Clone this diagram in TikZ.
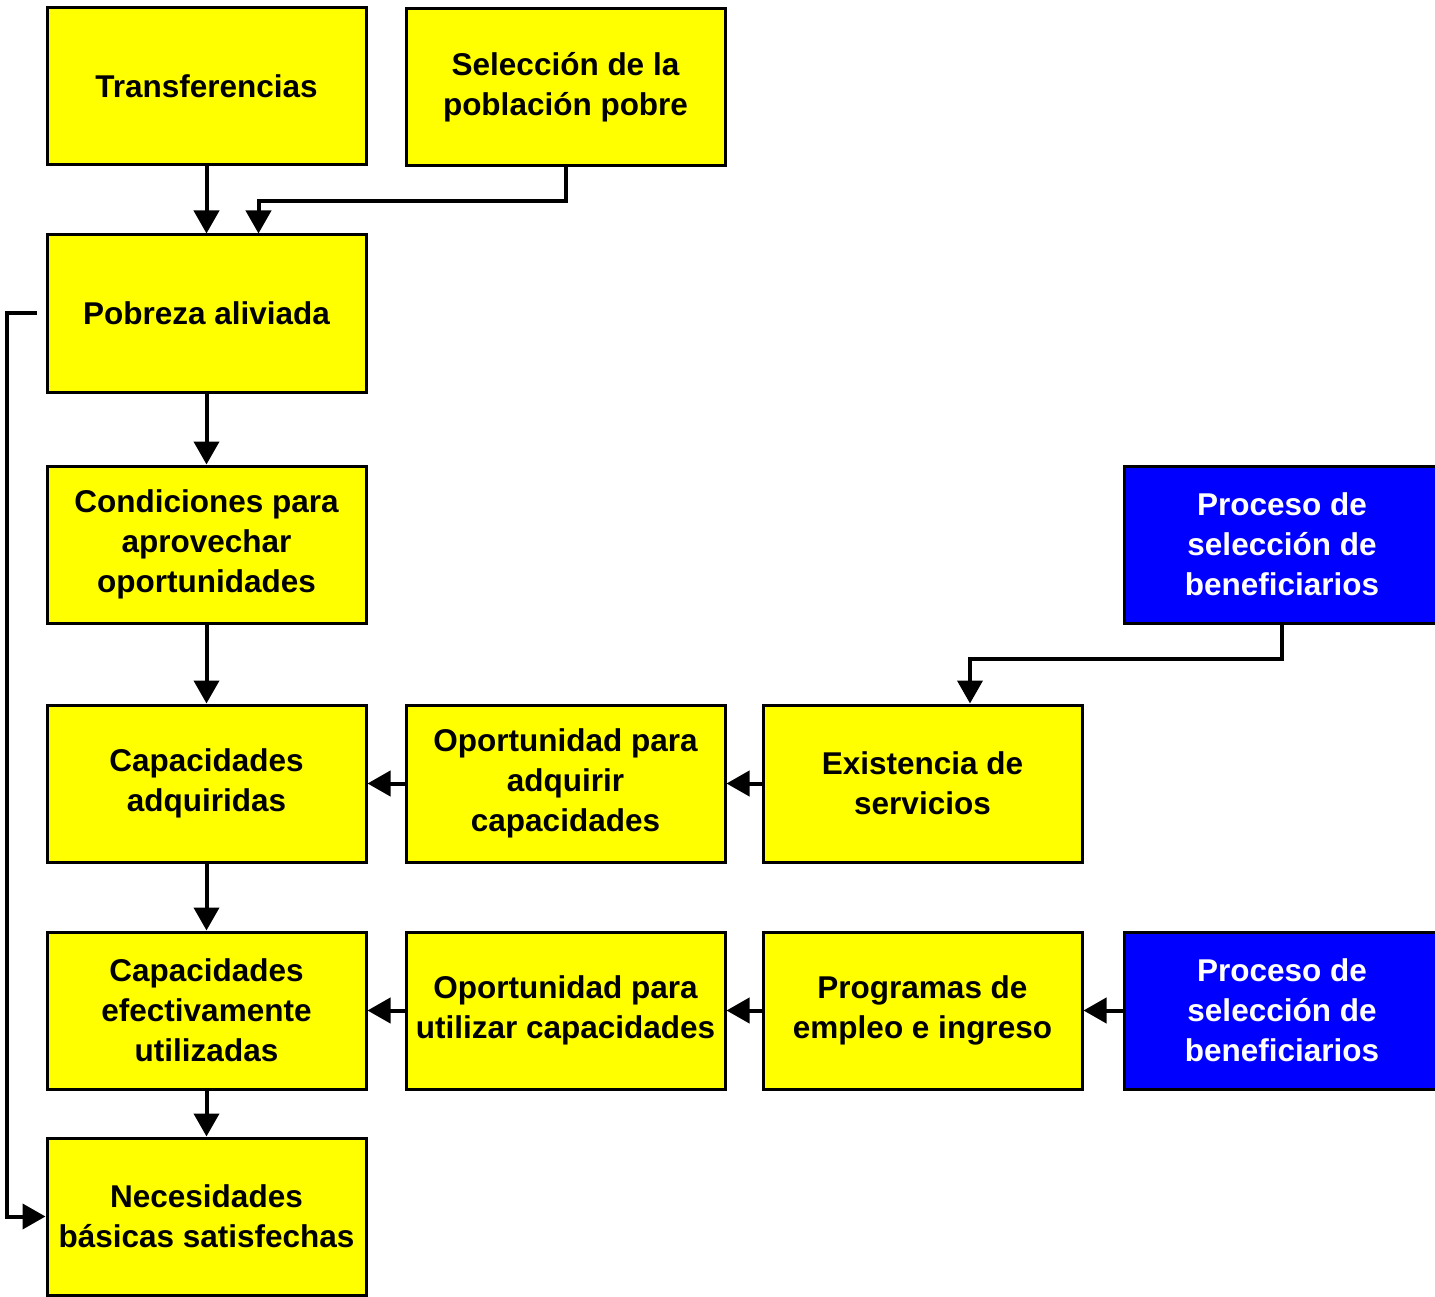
\documentclass[tikz,border=0pt]{standalone}
\usepackage{fontspec}
\setmainfont{Liberation Sans}
\usetikzlibrary{arrows.meta}
\definecolor{ylw}{RGB}{255,255,0}
\definecolor{blu}{RGB}{0,0,255}
\begin{document}
\begin{tikzpicture}[x=1pt,y=-1pt,
  box/.style={draw=black,line width=3pt,fill=ylw,minimum width=319pt,minimum height=157pt,inner sep=0pt,align=center,font=\bfseries\fontsize{31.5}{40}\selectfont},
  bluebox/.style={box,fill=blu,text=white,minimum width=316pt},
  conn/.style={line width=4pt,-{Triangle[width=25pt,length=23pt]}}]
\useasboundingbox (0,0) rectangle (1435,1297);
\node[box] (trans) at (206.5,86.5) {Transferencias};
\node[box] (sel) at (565.5,87.5) {Selección de la\\población pobre};
\node[box] (pob) at (206.5,313.5) {Pobreza aliviada};
\node[box] (cond) at (206.5,544.5) {Condiciones para\\aprovechar\\oportunidades};
\node[box] (capa) at (206.5,783.5) {Capacidades\\adquiridas};
\node[box] (opa) at (565.5,783.5) {Oportunidad para\\adquirir\\capacidades};
\node[box] (exist) at (922.5,783.5) {Existencia de\\servicios};
\node[bluebox] (b1) at (1282,544.5) {Proceso de\\selección de\\beneficiarios};
\node[box] (cape) at (206.5,1010.5) {Capacidades\\efectivamente\\utilizadas};
\node[box] (opu) at (565.5,1010.5) {Oportunidad para\\utilizar capacidades};
\node[box] (prog) at (922.5,1010.5) {Programas de\\empleo e ingreso};
\node[bluebox] (b2) at (1282,1010.5) {Proceso de\\selección de\\beneficiarios};
\node[box] (nec) at (206.5,1216.5) {Necesidades\\básicas satisfechas};
\coordinate (loopstart) at ([xshift=-9pt]pob.west);
\draw[conn] (trans.south) -- (pob.north);
\draw[conn] (sel.south) -- ++(0,34) -| ([xshift=52pt]pob.north);
\draw[conn] (pob.south) -- (cond.north);
\draw[conn] (cond.south) -- (capa.north);
\draw[conn] (capa.south) -- (cape.north);
\draw[conn] (cape.south) -- (nec.north);
\draw[conn] (loopstart) -- ++(-30,0) |- (nec.west);
\draw[conn] (b1.south) -- ++(0,34) -| ([xshift=47.5pt]exist.north);
\draw[conn] (opa.west) -- (capa.east);
\draw[conn] (exist.west) -- (opa.east);
\draw[conn] (opu.west) -- (cape.east);
\draw[conn] (prog.west) -- (opu.east);
\draw[conn] (b2.west) -- (prog.east);
\end{tikzpicture}
\end{document}
